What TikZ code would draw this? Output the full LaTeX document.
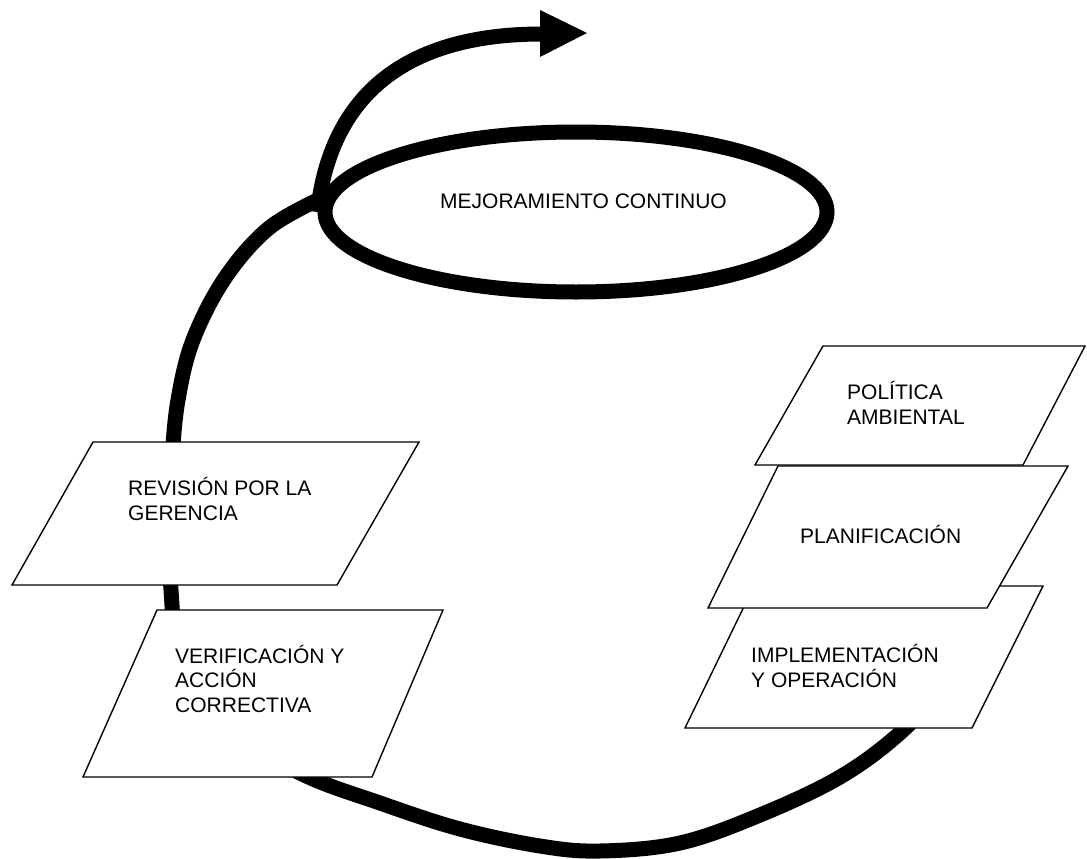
\documentclass[tikz,border=0pt]{standalone}
\usepackage{fontspec}
\setmainfont{Liberation Sans}
\usetikzlibrary{shapes.geometric}
\begin{document}
\begin{tikzpicture}[x=1pt,y=-1pt,
  band/.style={line width=15pt, line cap=butt, line join=round},
  stage/.style={draw, line width=1.4pt, fill=white, line join=miter},
  caption/.style={anchor=base west, inner sep=0pt, align=left,
    font=\fontsize{21}{24.5}\selectfont}]
\useasboundingbox (0,0) rectangle (1087,859);

% the continual improvement loop
\node[ellipse, draw, line width=15pt, inner sep=0pt,
      minimum width=502pt, minimum height=160pt] (cycle) at (576,212) {};

% big spiral turn that feeds into the loop from below
\draw[band] plot[smooth, tension=0.6] coordinates {
  (322,198) (269,228) (225,278) (193,340) (178,400) (172,460) (170,520)
  (171,590) (180,655) (215,722) (300,773) (380,803) (460,829) (540,846)
  (600,851) (680,843) (760,815) (840,777) (900,733) (950,680)};

% exit arrow leaving the loop
\coordinate (shaftend) at (542,34);
\coordinate (tip) at (587,33);
\draw[band] (cycle.west) .. controls (330,100) and (400,34) .. (shaftend);
\fill (540,10) -- (tip) -- (540,57) -- cycle;

% stages of the system
\draw[stage] (93,442) -- (419,442) -- (337,585) -- (12,585) -- cycle;
\draw[stage] (157,610) -- (443,610) -- (372,777) -- (83,777) -- cycle;
\draw[stage] (754,586) -- (1043,586) -- (972,728) -- (685,728) -- cycle;
\draw[stage] (778,466) -- (1068,466) -- (987,608) -- (708,608) -- cycle;
\draw[stage] (823,346) -- (1085,346) -- (1023,465) -- (755,465) -- cycle;

% labels (anchored on the baseline of their last line)
\node[caption] (mc)  at (440,208) {MEJORAMIENTO CONTINUO};
\node[caption] (rev) at (128,520) {REVISIÓN POR LA\\GERENCIA};
\node[caption] (ver) at (175,712) {VERIFICACIÓN Y\\ACCIÓN\\CORRECTIVA};
\node[caption] (pol) at (847,424) {POLÍTICA\\AMBIENTAL};
\node[caption] (pla) at (800,543) {PLANIFICACIÓN};
\node[caption] (imp) at (751,687) {IMPLEMENTACIÓN\\Y OPERACIÓN};
\end{tikzpicture}
\end{document}
